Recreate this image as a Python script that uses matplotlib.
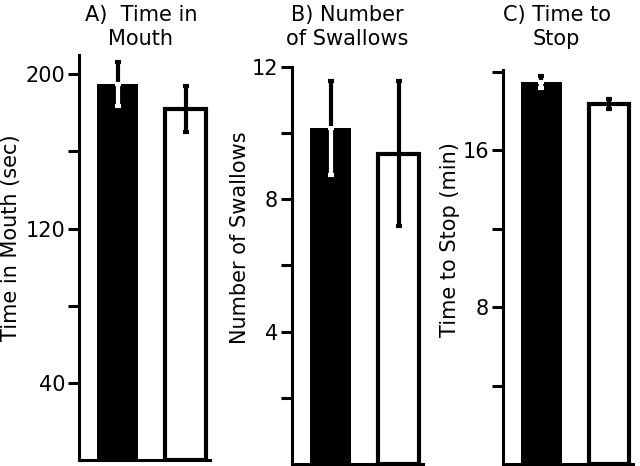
import matplotlib
matplotlib.use("Agg")
import matplotlib.pyplot as plt

# values (black bar, white bar)
mouth_means = [195, 182]
mouth_errs = [11.5, 12]
swallow_means = [10.15, 9.38]
swallow_errs = [1.43, 2.2]
stop_means = [19.5, 18.35]
stop_errs = [0.3, 0.25]

titles = ["A)  Time in\nMouth", "B) Number\nof Swallows", "C) Time to\nStop"]
ylabels = ["Time in Mouth (sec)", "Number of Swallows", "Time to Stop (min)"]
yticks = [[40, 80, 120, 160, 200], [2, 4, 6, 8, 10, 12], [4, 8, 12, 16, 20]]
yticklabels = [["40", "", "120", "", "200"],
               ["", "4", "", "8", "", "12"],
               ["", "8", "", "16", ""]]
ylims = [(0, 210), (0, 12), (0, 20.1)]

plt.rcParams["font.family"] = "DejaVu Sans"
plt.rcParams["font.size"] = 15

fig = plt.figure(figsize=(6.4, 4.66), dpi=100)

# axes boxes in figure fractions
boxes = [[0.1234, 0.0129, 0.2047, 0.869],
         [0.4563, 0.0043, 0.2047, 0.852],
         [0.7859, 0.0043, 0.2031, 0.8455]]
label_xy = [(-0.44, 0.548), (-0.32, 0.569), (-0.33, 0.569)]
title_x = [0.22, 0.542, 0.870]

data = [(mouth_means, mouth_errs), (swallow_means, swallow_errs), (stop_means, stop_errs)]

for i, (means, errs) in enumerate(data):
    ax = fig.add_axes(boxes[i])
    # black bar without outline, white bar with thick black outline
    ax.bar([0], [means[0]], width=0.6, color="black", linewidth=0)
    ax.bar([1], [means[1]], width=0.6, color="white", edgecolor="black", linewidth=3)
    # black bar: upper half black, lower half white; white bar: all black
    ax.errorbar([0], [means[0]], yerr=[[0], [errs[0]]], fmt="none", ecolor="black",
                elinewidth=3, capsize=2, capthick=3)
    ax.errorbar([0], [means[0]], yerr=[[errs[0]], [0]], fmt="none", ecolor="white",
                elinewidth=3, capsize=2, capthick=3)
    ax.errorbar([1], [means[1]], yerr=[[errs[1]], [errs[1]]], fmt="none", ecolor="black",
                elinewidth=3, capsize=2, capthick=3)
    ax.set_xlim(-0.57, 1.36)
    ax.set_ylim(*ylims[i])
    ax.set_yticks(yticks[i])
    ax.set_yticklabels(yticklabels[i])
    ax.set_xticks([])
    ax.spines["top"].set_visible(False)
    ax.spines["right"].set_visible(False)
    ax.spines["left"].set_linewidth(2.2)
    ax.spines["bottom"].set_linewidth(2.2)
    ax.tick_params(axis="y", length=8, width=2.2, pad=2)
    ax.set_ylabel(ylabels[i])
    ax.yaxis.set_label_coords(*label_xy[i])
    fig.text(title_x[i], 0.99, titles[i], ha="center", va="top", linespacing=1.28)

fig.savefig("out.png", dpi=100)
